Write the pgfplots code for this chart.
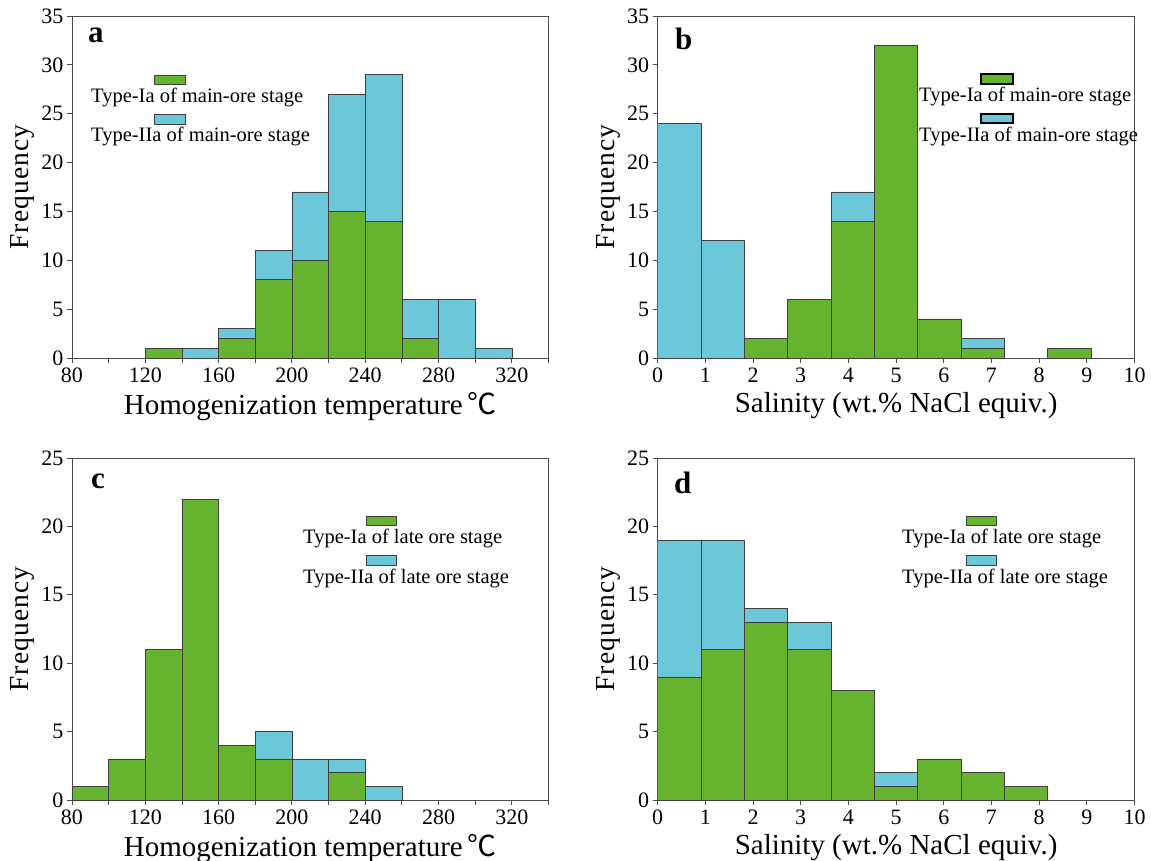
\documentclass[border=0pt]{standalone}
\usepackage{pgfplots}
\pgfplotsset{compat=1.18}
\usepackage{fontspec}
\setmainfont{Liberation Serif}
\newfontfamily\cjk{Noto Sans CJK SC}
\definecolor{grn}{HTML}{66B32F}
\definecolor{blu}{HTML}{6CC7D8}

\pgfplotsset{
  hist/.style={
    scale only axis, anchor=south west,
    ybar stacked,
    axis line style={black!70, line width=0.9pt},
    tick style={black!70, line width=0.9pt},
    tick align=outside, xtick pos=bottom, ytick pos=left,
    major tick length=5pt,
    ymin=0,
    tick label style={font=\fontsize{22}{22}\selectfont},
    xticklabel style={inner sep=1pt, yshift=-4pt},
    /pgf/number format/assume math mode=true,
    ylabel style={font=\fontsize{27.5}{27.5}\selectfont},
    xlabel style={font=\fontsize{29}{29}\selectfont, inner sep=0pt,
      at={(axis description cs:0.5,0)}, anchor=north, yshift=-34pt},
    ylabel={{\addfontfeature{LetterSpace=4}Frequency}},
    every axis plot/.append style={draw=black!75, line width=0.7pt},
  },
  temp/.style={hist, xmin=80, xmax=340, bar width=20,
    xtick={80,100,...,340},
    xticklabels={80,,120,,160,,200,,240,,280,,320,},
    xlabel={Homogenization temperature\,{\cjk ℃}}},
  sal/.style={hist, xmin=0, xmax=10, bar width=0.90909,
    xtick={0,1,...,10},
    xlabel={Salinity (wt.\% NaCl equiv.)}},
}

\begin{document}
\begin{tikzpicture}
\useasboundingbox (0,0) rectangle (1151pt,-861pt);

% ---------- a ----------
\begin{axis}[temp, at={(72pt,-358pt)}, width=476.5pt, height=342pt,
  ymax=35, ytick={0,5,...,35}]
\addplot[fill=grn] coordinates {(130,1) (150,0) (170,2) (190,8) (210,10) (230,15) (250,14) (270,2) (290,0) (310,0)};
\addplot[fill=blu] coordinates {(130,0) (150,1) (170,1) (190,3) (210,7) (230,12) (250,15) (270,4) (290,6) (310,1)};
\end{axis}

% ---------- b ----------
\begin{axis}[sal, at={(657.7pt,-358pt)}, width=476.8pt, height=342pt,
  ymax=35, ytick={0,5,...,35}]
\addplot[fill=grn] coordinates {(0.4545,0) (1.3636,0) (2.2727,2) (3.1818,6) (4.0909,14) (5.0,32) (5.9091,4) (6.8182,1) (7.7273,0) (8.6364,1) (9.5455,0)};
\addplot[fill=blu] coordinates {(0.4545,24) (1.3636,12) (2.2727,0) (3.1818,0) (4.0909,3) (5.0,0) (5.9091,0) (6.8182,1) (7.7273,0) (8.6364,0) (9.5455,0)};
\end{axis}

% ---------- c ----------
\begin{axis}[temp, at={(72pt,-800pt)}, width=476.5pt, height=342pt,
  ymax=25, ytick={0,5,...,25}]
\addplot[fill=grn] coordinates {(90,1) (110,3) (130,11) (150,22) (170,4) (190,3) (210,0) (230,2) (250,0)};
\addplot[fill=blu] coordinates {(90,0) (110,0) (130,0) (150,0) (170,0) (190,2) (210,3) (230,1) (250,1)};
\end{axis}

% ---------- d ----------
\begin{axis}[sal, at={(657.7pt,-800pt)}, width=476.8pt, height=342pt,
  ymax=25, ytick={0,5,...,25}]
\addplot[fill=grn] coordinates {(0.4545,9) (1.3636,11) (2.2727,13) (3.1818,11) (4.0909,8) (5.0,1) (5.9091,3) (6.8182,2) (7.7273,1)};
\addplot[fill=blu] coordinates {(0.4545,10) (1.3636,8) (2.2727,1) (3.1818,2) (4.0909,0) (5.0,1) (5.9091,0) (6.8182,0) (7.7273,0)};
\end{axis}

% ---------- panel letters ----------
\begin{scope}[every node/.style={inner sep=0pt, anchor=base west, font=\fontsize{31}{31}\selectfont\bfseries}]
\node at (88pt,-43pt) {a};
\node at (675pt,-50pt) {b};
\node at (91pt,-488pt) {c};
\node at (674pt,-493pt) {d};
\end{scope}

% ---------- legends ----------
\begin{scope}[every node/.style={inner sep=0pt, anchor=base west, font=\fontsize{20.5}{21}\selectfont}]
% a
\draw[fill=grn, draw=black!75, line width=0.9pt] (154pt,-75pt) rectangle (185pt,-84pt);
\node at (91pt,-103pt) {Type-Ia of main-ore stage};
\draw[fill=blu, draw=black!75, line width=0.9pt] (154pt,-114pt) rectangle (185pt,-124pt);
\node at (91pt,-142pt) {Type-IIa of main-ore stage};
% b
\draw[fill=grn, draw=black, line width=1.5pt] (981pt,-74pt) rectangle (1013pt,-84pt);
\node at (919pt,-102pt) {Type-Ia of main-ore stage};
\draw[fill=blu, draw=black, line width=1.5pt] (981pt,-114pt) rectangle (1013pt,-123pt);
\node at (919pt,-142pt) {Type-IIa of main-ore stage};
% c
\draw[fill=grn, draw=black!75, line width=0.9pt] (366pt,-516pt) rectangle (396pt,-525pt);
\node at (303pt,-543pt) {Type-Ia of late ore stage};
\draw[fill=blu, draw=black!75, line width=0.9pt] (366pt,-555pt) rectangle (396pt,-565pt);
\node at (303pt,-583pt) {Type-IIa of late ore stage};
% d
\draw[fill=grn, draw=black!75, line width=0.9pt] (966pt,-516pt) rectangle (996pt,-525pt);
\node at (902pt,-543pt) {Type-Ia of late ore stage};
\draw[fill=blu, draw=black!75, line width=0.9pt] (966pt,-555pt) rectangle (996pt,-565pt);
\node at (902pt,-583pt) {Type-IIa of late ore stage};
\end{scope}
\end{tikzpicture}
\end{document}
